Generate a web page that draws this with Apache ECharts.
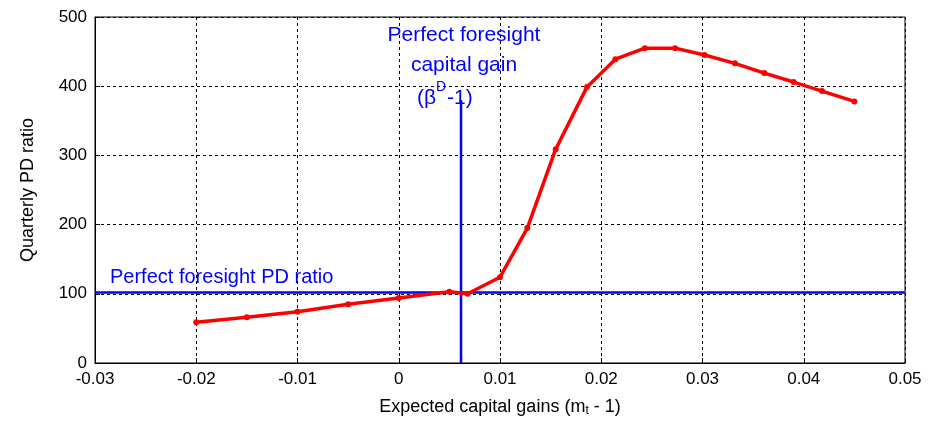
<!DOCTYPE html><html><head><meta charset="utf-8"><script src="https://cdn.jsdelivr.net/npm/echarts@6/dist/echarts.min.js"></script></head><body style="margin:0;background:#fff"><div id="c" style="width:932px;height:436px"></div><script>
var xs=[-0.02,-0.015,-0.01,-0.005,0,0.005,0.0068,0.01,0.0127,0.0155,0.0186,0.0214,0.0243,0.0273,0.0302,0.0332,0.0361,0.039,0.0418,0.045];
var ys=[59,66,74,85,94,103,100,124,195,309,399,439,455,455,445,433,419,406,393,378];
var pfPD=102, pfGain=0.00615, vTop=380;
var F='Liberation Sans, Arial, sans-serif';
var c=echarts.init(document.getElementById('c'));
var dash={lineStyle:{type:[3,3],color:'#000',width:1}};
function t(x,y,s,fs,al){return {type:'text',x:x,y:y,z:10,style:{text:s,fontFamily:F,fontSize:fs||21,fill:'#0000ff',textAlign:al||'center'}};}
c.setOption({animation:false,
grid:{left:95,right:27,top:17,bottom:73,show:true,borderColor:'#000',borderWidth:1},
xAxis:{type:'value',min:-0.03,max:0.05,interval:0.01,name:'Expected capital gains (m{s|t} - 1)',nameLocation:'middle',nameGap:34,
 nameTextStyle:{fontFamily:F,fontSize:18,color:'#000',rich:{s:{fontSize:12,verticalAlign:'bottom',padding:[8,0,0,0]}}},
 axisLine:{onZero:false,lineStyle:{color:'#000'}},axisTick:{inside:true,length:5,lineStyle:{color:'#000'}},
 axisLabel:{fontFamily:F,fontSize:17,color:'#000'},splitLine:{show:true,...dash}},
yAxis:{type:'value',min:0,max:500,interval:100,name:'Quarterly PD ratio',nameLocation:'middle',nameGap:58,
 nameTextStyle:{fontFamily:F,fontSize:18,color:'#000'},axisLine:{onZero:false,lineStyle:{color:'#000'}},axisTick:{inside:true,length:5,lineStyle:{color:'#000'}},
 axisLabel:{fontFamily:F,fontSize:17,color:'#000'},splitLine:{show:true,...dash}},
series:[
{type:'line',data:[[-0.03,pfPD],[0.05,pfPD]],symbol:'none',lineStyle:{color:'#0000ff',width:2.5},z:3},
{type:'line',data:[[pfGain,0],[pfGain,vTop]],symbol:'none',lineStyle:{color:'#0000ff',width:2.5},z:3},
{type:'line',data:xs.map(function(x,i){return [x,ys[i]];}),symbol:'circle',symbolSize:6,itemStyle:{color:'#ff0000'},lineStyle:{color:'#ff0000',width:3.5},z:4}
],
graphic:[
{type:'text',left:110,top:267,style:{text:'Perfect foresight PD ratio',fontFamily:F,fontSize:20,fill:'#0000ff'}},
t(464,25,'Perfect foresight'),t(464,55,'capital gain'),t(436,88,'(β',21,'right'),t(436,80,'D',14,'left'),t(447,88,'-1)',21,'left')
]});
</script></body></html>
